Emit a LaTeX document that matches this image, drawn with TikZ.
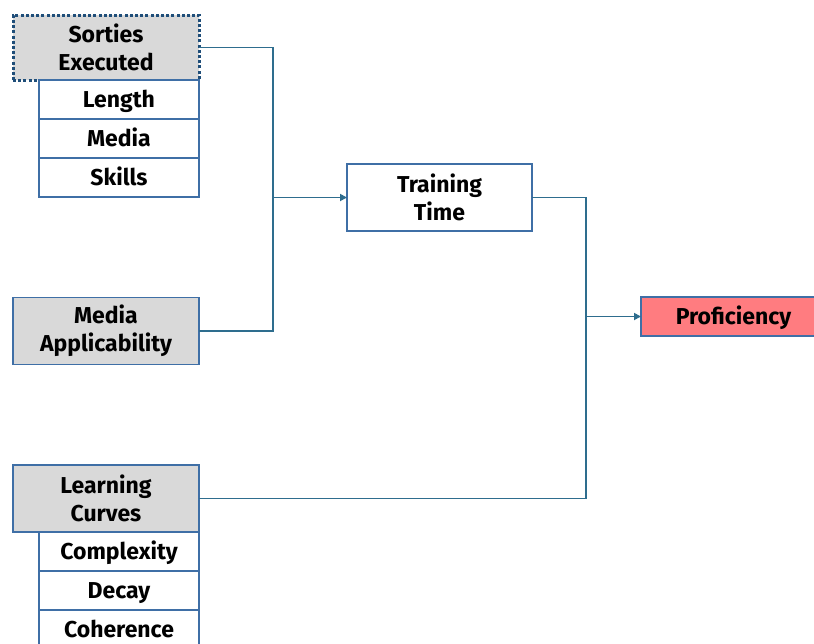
\documentclass[tikz,border=0pt]{standalone}
\usepackage{fontspec}
\setmainfont{Fira Sans}
\usepackage{tikz}
\usetikzlibrary{positioning,arrows.meta}
\definecolor{boxblue}{HTML}{3F6FA6}
\definecolor{dotblue}{HTML}{1F4E79}
\definecolor{linkblue}{HTML}{2E6D8E}
\definecolor{headgray}{HTML}{D9D9D9}
\definecolor{profred}{HTML}{FF7C80}
\tikzstyle{hd}=[%
      rectangle, draw=boxblue, line width=1.3pt, fill=headgray, outer sep=0pt,
      minimum height=67pt, minimum width=186pt, inner sep=2pt, align=center,
      font=\fontsize{23}{28}\selectfont\bfseries
]
\tikzstyle{sub}=[%
      rectangle, draw=boxblue, line width=1.3pt, fill=white, outer sep=0pt,
      minimum height=39pt, minimum width=160pt, inner sep=0pt, align=center,
      text height=15.5pt, text depth=0pt,
      font=\fontsize{23}{28}\selectfont\bfseries
]
\tikzstyle{link}=[%
      draw=linkblue, line width=1.8pt
]
\begin{document}
\begin{tikzpicture}[x=1pt,y=-1pt]
\useasboundingbox (0,0) rectangle (814,643);
\node[hd, draw=dotblue, line width=3pt, dash pattern=on 3pt off 2.2pt, minimum height=65pt](sorties) at (106,47.5){Sorties\\Executed};
\node[sub, below=0pt of sorties.south east, anchor=north east](length){Length};
\node[sub, below=0pt of length](media){Media};
\node[sub, below=0pt of media](skills){Skills};

\node[hd](mediaapp) at (106,331){Media\\Applicability};

\node[hd](learning) at (106,498.5){Learning\\Curves};
\node[sub, below=0pt of learning.south east, anchor=north east](complexity){Complexity};
\node[sub, below=0pt of complexity](decay){Decay};
\node[sub, below=0pt of decay](coherence){Coherence};

\node[hd, fill=white, minimum width=185pt](training) at (439.5,197.5){Training\\Time};
\node[sub, fill=profred, minimum width=185pt](prof) at (733.5,316.5){Proficiency};

\coordinate (j1) at (273,197.5);
\coordinate (j2) at (586,316.5);

\draw[link](sorties.east) -| (j1);
\draw[link](mediaapp.east) -| (j1);
\draw[link, -{Triangle[length=7pt,width=7pt]}](j1) -- (training.west);
\draw[link](training.east) -| (j2);
\draw[link](learning.east) -| (j2);
\draw[link, -{Triangle[length=7pt,width=7pt]}](j2) -- (prof.west);
\end{tikzpicture}
\end{document}
